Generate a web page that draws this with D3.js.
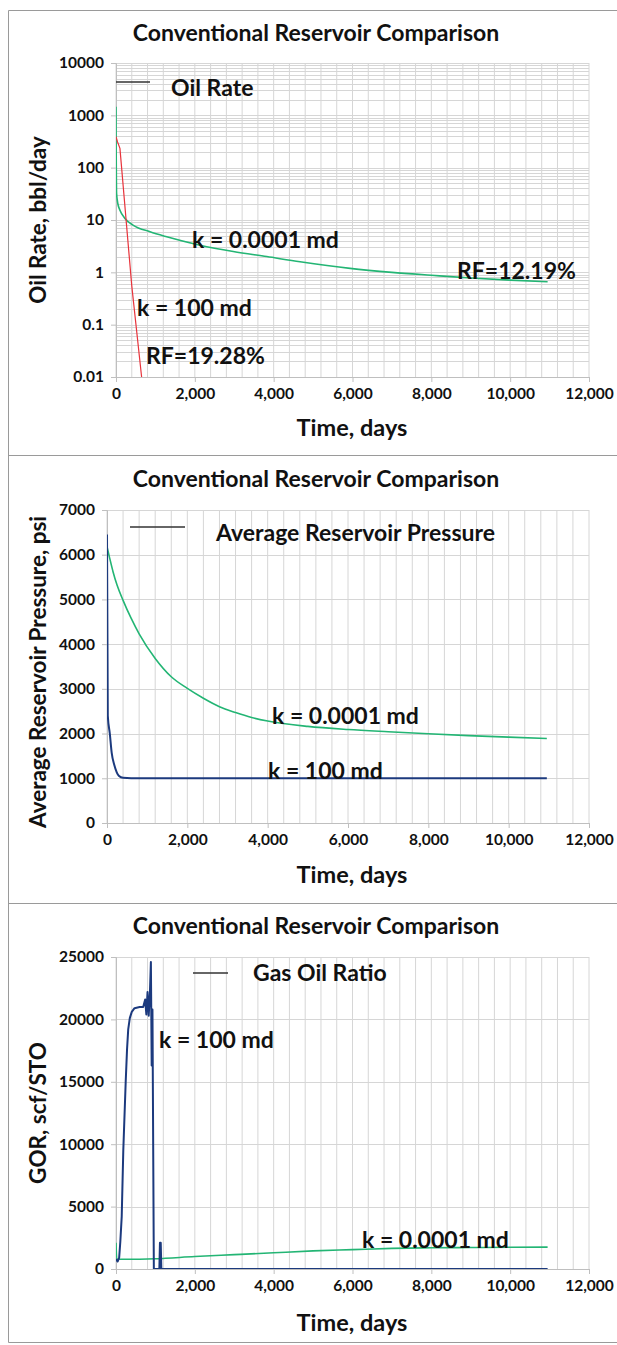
<!DOCTYPE html>
<html>
<head>
<meta charset="utf-8">
<script src="https://cdn.jsdelivr.net/npm/d3@7"></script>
<style>
  body { margin: 0; background: #fff; }
  svg text { font-family: Lato, "Open Sans", sans-serif; font-weight: bold; fill: #111; }
</style>
</head>
<body>
<svg id="chart" width="617" height="1345"></svg>
<script>
// ---- data ----
const timeTicks = [0, 2000, 4000, 6000, 8000, 10000, 12000];

// oil rate, bbl/day
const oilTight = [[0, 1460], [3, 300], [8, 80], [15, 32], [50, 20], [100, 15.4], [228, 10.7], [440, 7.9],
  [863, 5.96], [1286, 4.78], [2130, 3.3], [2975, 2.5], [3824, 2.0], [4670, 1.59], [5940, 1.19],
  [7000, 1.0], [8000, 0.88], [9000, 0.78], [10000, 0.71], [10950, 0.66]];
const oilConv = [[0, 390], [40, 310], [100, 234], [400, 0.55], [650, 0.01]];
const oilTicks = [0.01, 0.1, 1, 10, 100, 1000, 10000];

// average reservoir pressure, psi
const presTight = [[0, 6180], [65, 5930], [150, 5620], [250, 5320], [400, 4980], [600, 4580], [800, 4230],
  [1200, 3680], [1600, 3270], [2000, 3010], [2400, 2790], [2800, 2600], [3200, 2470], [3600, 2360],
  [4000, 2280], [5000, 2160], [6000, 2090], [7000, 2040], [8000, 1995], [9000, 1955], [10000, 1920],
  [10950, 1890]];
const presConv = [[0, 6450], [20, 2400], [70, 2000], [117, 1570], [180, 1300], [240, 1140], [300, 1050],
  [400, 1010], [600, 1000], [10950, 1000]];
const presTicks = [0, 1000, 2000, 3000, 4000, 5000, 6000, 7000];

// gas oil ratio, scf/STO
const gorTight = [[0, 2100], [20, 800], [200, 780], [1000, 820], [2000, 1000], [3000, 1150], [4000, 1300],
  [5000, 1450], [6000, 1550], [7000, 1650], [8000, 1700], [9000, 1720], [10000, 1740], [10950, 1750]];
const gorConv = [[0, 800], [40, 600], [80, 900], [110, 2200], [145, 4200], [185, 9500], [245, 14900],
  [280, 17600], [310, 19200], [350, 20100], [400, 20600], [470, 20900], [600, 21000], [690, 21000],
  [740, 21600], [770, 20400], [800, 22200], [830, 20300], [860, 22100], [885, 24600], [895, 20500],
  [905, 16300], [925, 20800], [960, 0], [1100, 0], [1115, 2100], [1135, 2100], [1150, 0], [10950, 0]];
const gorTicks = [0, 5000, 10000, 15000, 20000, 25000];

const green = '#23b574', red = '#e8343c', navy = '#1c3a7e';
const gridColor = '#d6d6d6';

const svg = d3.select('#chart');

// panel frames
svg.append('path')
  .attr('d', 'M8.5,10.5H620 M8.5,10.5V1342.5H620 M8.5,455.5H620 M8.5,903.5H620')
  .attr('fill', 'none').attr('stroke', '#9a9a9a').attr('stroke-width', 1);

function panel(cfg) {
  const g = svg.append('g');
  const x = d3.scaleLinear().domain([0, 12000]).range([cfg.left, 589]);
  const y = (cfg.log ? d3.scaleLog() : d3.scaleLinear()).domain(cfg.yDomain).range([cfg.bottom, cfg.top]);

  // minor vertical grid every 400 days
  g.append('g').selectAll('line').data(d3.range(0, 12001, 400)).join('line')
    .attr('x1', d => x(d)).attr('x2', d => x(d)).attr('y1', cfg.top).attr('y2', cfg.bottom)
    .attr('stroke', gridColor).attr('stroke-width', 1);

  // horizontal grid
  let hLines = cfg.yTicks;
  if (cfg.log) {
    hLines = [];
    cfg.yTicks.slice(0, -1).forEach(d => { for (let i = 1; i < 10; i++) hLines.push(d * i); });
    hLines.push(cfg.yTicks[cfg.yTicks.length - 1]);
  }
  g.append('g').selectAll('line').data(hLines).join('line')
    .attr('x1', cfg.left).attr('x2', 589).attr('y1', d => Math.round(y(d)) + 0.5).attr('y2', d => Math.round(y(d)) + 0.5)
    .attr('stroke', gridColor).attr('stroke-width', 1);

  // axes
  const xAxis = d3.axisBottom(x).tickValues(timeTicks).tickSize(5).tickPadding(6)
    .tickFormat(d3.format(','));
  const gx = g.append('g').attr('transform', `translate(0,${cfg.bottom})`).call(xAxis);
  const yAxis = d3.axisLeft(y).tickValues(cfg.yTicks).tickSize(5).tickPadding(7)
    .tickFormat(d => String(d));
  const gy = g.append('g').attr('transform', `translate(${cfg.left},0)`).call(yAxis);
  [gx, gy].forEach(a => {
    a.select('.domain').attr('stroke', '#bfbfbf');
    a.selectAll('.tick line').attr('stroke', '#bfbfbf');
    a.selectAll('.tick text').style('font-size', '15.5px').attr('fill', '#111');
  });

  // clip
  const id = 'clip' + cfg.name;
  g.append('clipPath').attr('id', id).append('rect')
    .attr('x', cfg.left).attr('y', cfg.top).attr('width', 589 - cfg.left).attr('height', cfg.bottom - cfg.top);

  cfg.series.forEach(s => {
    const line = d3.line().x(d => x(d[0])).y(d => y(d[1])).curve(s.smooth ? d3.curveMonotoneX : d3.curveLinear);
    g.append('path').datum(s.data).attr('d', line).attr('clip-path', `url(#${id})`)
      .attr('fill', 'none').attr('stroke', s.color).attr('stroke-width', s.width)
      .attr('stroke-linejoin', 'round');
  });

  // titles
  g.append('text').attr('x', 316).attr('y', cfg.titleY).attr('text-anchor', 'middle')
    .style('font-size', '23px').text('Conventional Reservoir Comparison');
  g.append('text').attr('x', 352).attr('y', cfg.xTitleY).attr('text-anchor', 'middle')
    .style('font-size', '23.5px').text('Time, days');
  g.append('text').attr('transform', `translate(46,${cfg.yTitleC}) rotate(-90)`).attr('text-anchor', 'middle')
    .style('font-size', '22.5px').text(cfg.yTitle);

  // legend
  g.append('line').attr('x1', cfg.legend[0]).attr('x2', cfg.legend[1]).attr('y1', cfg.legend[2]).attr('y2', cfg.legend[2])
    .attr('stroke', '#333').attr('stroke-width', 1.3);
  g.append('text').attr('x', cfg.legend[3]).attr('y', cfg.legend[4]).style('font-size', '23px').text(cfg.legendText);

  cfg.notes.forEach(n => {
    g.append('text').attr('x', n[0]).attr('y', n[1]).style('font-size', '23px').text(n[2]);
  });
}

panel({
  name: 'oil', log: true, left: 116, top: 63, bottom: 377, yDomain: [0.01, 10000], yTicks: oilTicks,
  titleY: 41, xTitleY: 436, yTitleC: 220, yTitle: 'Oil Rate, bbl/day',
  legend: [116, 150, 82, 171, 96], legendText: 'Oil Rate',
  series: [{ data: oilTight, color: green, width: 1.6, smooth: true }, { data: oilConv, color: red, width: 1.2 }],
  notes: [[192, 248, 'k = 0.0001 md'], [457, 279, 'RF=12.19%'], [137, 316, 'k = 100 md'], [146, 364, 'RF=19.28%']]
});

panel({
  name: 'pres', log: false, left: 107, top: 510, bottom: 823, yDomain: [0, 7000], yTicks: presTicks,
  titleY: 487, xTitleY: 883, yTitleC: 672, yTitle: 'Average Reservoir Pressure, psi',
  legend: [130, 185, 527, 216, 541], legendText: 'Average Reservoir Pressure',
  series: [{ data: presTight, color: green, width: 1.6, smooth: true }, { data: presConv, color: navy, width: 2, smooth: true }],
  notes: [[272, 724, 'k = 0.0001 md'], [268, 779, 'k = 100 md']]
});

panel({
  name: 'gor', log: false, left: 116, top: 957, bottom: 1269, yDomain: [0, 25000], yTicks: gorTicks,
  titleY: 934, xTitleY: 1331, yTitleC: 1113, yTitle: 'GOR, scf/STO',
  legend: [193, 228, 973, 253, 981], legendText: 'Gas Oil Ratio',
  series: [{ data: gorTight, color: green, width: 1.6, smooth: true }, { data: gorConv, color: navy, width: 2 }],
  notes: [[159, 1048, 'k = 100 md'], [362, 1248, 'k = 0.0001 md']]
});
</script>
</body>
</html>
